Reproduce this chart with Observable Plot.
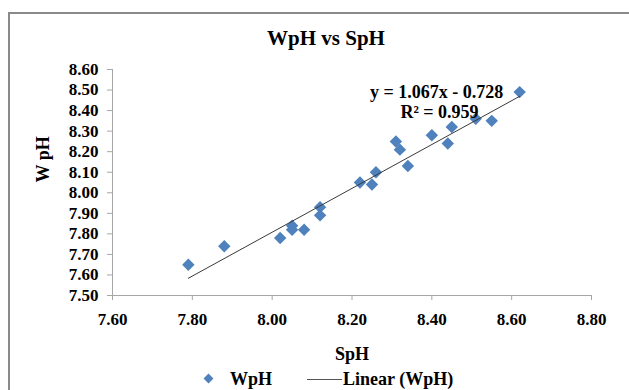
<!DOCTYPE html>
<html><head><meta charset="utf-8">
<script src="https://cdn.jsdelivr.net/npm/d3@7"></script>
<script src="https://cdn.jsdelivr.net/npm/@observablehq/plot@0.6"></script>
<style>
body{margin:0;background:#fff;}
#wrap{position:relative;width:629px;height:390px;overflow:hidden;font-family:"Liberation Serif","Times New Roman",serif;font-weight:bold;color:#000;}
#frame{position:absolute;left:8px;top:12px;width:660px;height:420px;border:2px solid #8a8a8a;box-sizing:border-box;}
#title{position:absolute;left:0;top:25px;width:652px;text-align:center;font-size:21px;line-height:26px;}
#chart{position:absolute;left:0;top:55px;}
#legend{position:absolute;left:0;top:368px;width:629px;height:22px;font-size:18px;line-height:22px;}
#legend .dia{position:absolute;left:205px;top:7px;width:7px;height:7px;background:#4F81BD;transform:rotate(45deg);}
#legend .t1{position:absolute;left:230px;top:0;}
#legend .ln{position:absolute;left:307px;top:11px;width:35px;height:0;border-top:1px solid #555;}
#legend .t2{position:absolute;left:343px;top:0;}
</style>
</head><body>
<div id="wrap">
  <div id="frame"></div>
  <div id="title">WpH vs SpH</div>
  <div id="chart"></div>
  <div id="legend"><span class="dia"></span><span class="t1">WpH</span><span class="ln"></span><span class="t2">Linear (WpH)</span></div>
</div>
<script>
const spH = [7.79, 7.88, 8.02, 8.05, 8.05, 8.08, 8.12, 8.12, 8.22, 8.25, 8.26, 8.31, 8.32, 8.34, 8.40, 8.44, 8.45, 8.51, 8.55, 8.62];
const wpH = [7.65, 7.74, 7.78, 7.84, 7.82, 7.82, 7.93, 7.89, 8.05, 8.04, 8.10, 8.25, 8.21, 8.13, 8.28, 8.24, 8.32, 8.36, 8.35, 8.49];
const trendSlope = 1.067;
const trendIntercept = -0.728;
const rSquared = 0.959;
const xTicks = [7.6, 7.8, 8.0, 8.2, 8.4, 8.6, 8.8];
const yTicks = [7.5, 7.6, 7.7, 7.8, 7.9, 8.0, 8.1, 8.2, 8.3, 8.4, 8.5, 8.6];
const xTitle = "SpH";
const yTitle = "W pH";

const points = spH.map((x, i) => ({x, y: wpH[i]}));
const ext = d3.extent(spH);
const trend = ext.map(x => ({x, y: trendSlope * x + trendIntercept}));
const eq = `y = ${trendSlope.toFixed(3)}x - ${Math.abs(trendIntercept).toFixed(3)}`;
const r2 = `R² = ${rSquared.toFixed(3)}`;

const chart = Plot.plot({
  width: 629,
  height: 310,
  marginLeft: 112,
  marginRight: 38,
  marginTop: 14,
  marginBottom: 70,
  style: {fontFamily: "Liberation Serif", fontWeight: "bold", fontSize: "17px", background: "transparent", color: "#000"},
  x: {domain: [7.6, 8.8], ticks: xTicks},
  y: {domain: [7.5, 8.6], ticks: yTicks},
  marks: [
    Plot.ruleX([7.6], {stroke: "#a6a6a6"}),
    Plot.ruleY([7.5], {stroke: "#a6a6a6"}),
    Plot.axisX({ticks: xTicks, tickFormat: d => d.toFixed(2), tickSize: 5, tickPadding: 12, stroke: "#a6a6a6", fill: "#000", label: null, fontSize: 17}),
    Plot.axisY({ticks: yTicks, tickFormat: d => d.toFixed(2), tickSize: 5, tickPadding: 9, stroke: "#a6a6a6", fill: "#000", label: null, fontSize: 17}),
    Plot.dot(points, {x: "x", y: "y", symbol: "diamond2", r: 5.6, fill: "#4F81BD", stroke: "none"}),
    Plot.line(trend, {x: "x", y: "y", stroke: "#3a3a3a", strokeWidth: 1}),
    Plot.text([eq], {frameAnchor: "top-right", dx: -155, dy: 23, textAnchor: "middle", lineAnchor: "middle", fontSize: 18, fill: "#000"}),
    Plot.text([r2], {frameAnchor: "top-right", dx: -152, dy: 43, textAnchor: "middle", lineAnchor: "middle", fontSize: 18, fill: "#000"}),
    Plot.text([xTitle], {frameAnchor: "bottom", dy: 59, lineAnchor: "middle", fontSize: 18, fill: "#000"}),
    Plot.text([yTitle], {frameAnchor: "left", dx: -69, rotate: -90, lineAnchor: "middle", fontSize: 18, fill: "#000"})
  ]
});
document.getElementById("chart").appendChild(chart);
</script>
</body></html>
